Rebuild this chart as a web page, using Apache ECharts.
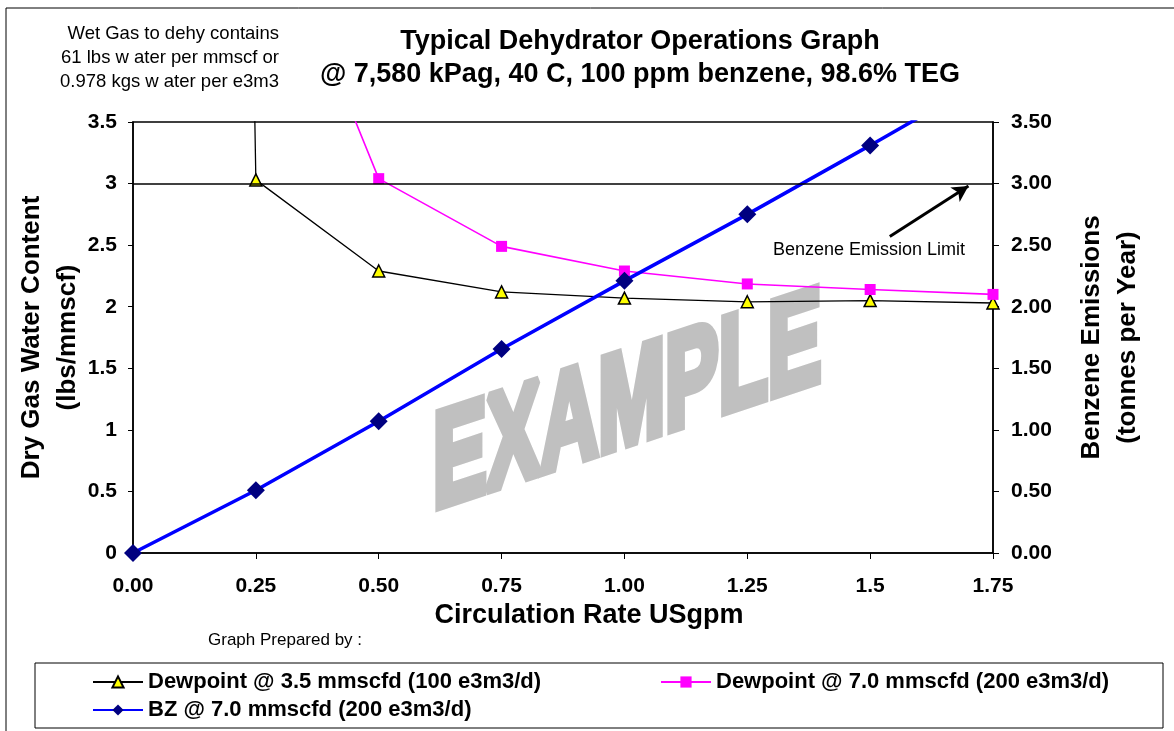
<!DOCTYPE html>
<html lang="en">
<head>
<meta charset="UTF-8">
<title>Typical Dehydrator Operations Graph</title>
<script src="https://cdn.jsdelivr.net/npm/echarts@6/dist/echarts.min.js"></script>
<style>
    * { margin: 0; padding: 0; }
    body { background: #fff; }
    #main { width: 1174px; height: 731px; }
</style>
</head>
<body>
<div id="main"></div>
<script>
    // circulation rate, USgpm
    var rates = [0, 0.25, 0.5, 0.75, 1.0, 1.25, 1.5, 1.75];
    // dry gas water content, lbs/mmscf
    var dew35 = [61, 3.03, 2.29, 2.12, 2.07, 2.04, 2.05, 2.03];
    var dew70 = [null, 5.5, 3.04, 2.49, 2.29, 2.185, 2.14, 2.10];
    // benzene emissions, tonnes per year
    var bz70 = [0, 0.51, 1.07, 1.657, 2.21, 2.75, 3.31, 3.88];
    var benzeneLimit = 3.0;

    var xTickLabels = ['0.00', '0.25', '0.50', '0.75', '1.00', '1.25', '1.5', '1.75'];
    var leftTickLabels = ['0', '0.5', '1', '1.5', '2', '2.5', '3', '3.5'];
    var rightTickLabels = ['0.00', '0.50', '1.00', '1.50', '2.00', '2.50', '3.00', '3.50'];

    var names = [
        'Dewpoint @ 3.5 mmscfd (100 e3m3/d)',
        'Dewpoint @ 7.0 mmscfd (200 e3m3/d)',
        'BZ @ 7.0 mmscfd (200 e3m3/d)'
    ];

    function pairs(ys) {
        var out = [];
        for (var i = 0; i < rates.length; i++) {
            if (ys[i] != null) out.push([rates[i], ys[i]]);
        }
        return out;
    }

    var FONT = '"Liberation Sans", Arial, sans-serif';
    var myChart = echarts.init(document.getElementById('main'));

    var tickLabel = { color: '#000', fontFamily: FONT, fontWeight: 'bold', fontSize: 21 };
    var legendText = { color: '#000', fontFamily: FONT, fontWeight: 'bold', fontSize: 22 };
    var axisName = { color: '#000', fontFamily: FONT, fontWeight: 'bold', fontSize: 26, lineHeight: 36 };

    function legendAt(name, left, top) {
        return {
            data: [name], left: left, top: top, padding: 0,
            itemWidth: 50, itemHeight: 14, itemGap: 5, textStyle: legendText
        };
    }

    var option = {
        animation: false,
        backgroundColor: '#fff',
        grid: {
            left: 133, right: 181, top: 122, bottom: 178,
            outerBoundsMode: 'none',
            show: true, borderColor: '#000', borderWidth: 1.5
        },
        legend: [
            legendAt(names[0], 92, 671),
            legendAt(names[1], 660, 671),
            legendAt(names[2], 92, 699)
        ],
        xAxis: {
            type: 'value', min: 0, max: 1.75, interval: 0.25,
            axisLine: { lineStyle: { color: '#000', width: 1.5 } },
            axisTick: { length: 6, lineStyle: { color: '#000' } },
            splitLine: { show: false },
            axisLabel: Object.assign({ margin: 23, formatter: function (v) { return xTickLabels[Math.round(v / 0.25)]; } }, tickLabel)
        },
        yAxis: [
            {
                type: 'value', min: 0, max: 3.5, interval: 0.5,
                name: 'Dry Gas Water Content\n(lbs/mmscf)',
                nameLocation: 'middle', nameRotate: 90, nameGap: 47, nameMoveOverlap: false,
                nameTextStyle: axisName,
                axisLine: { show: true, lineStyle: { color: '#000', width: 1.5 } },
                axisTick: { show: true, length: 5, lineStyle: { color: '#000' } },
                splitLine: { show: false },
                axisLabel: Object.assign({ margin: 16, formatter: function (v) { return leftTickLabels[Math.round(v / 0.5)]; } }, tickLabel)
            },
            {
                type: 'value', min: 0, max: 3.5, interval: 0.5, position: 'right',
                name: 'Benzene Emissions\n(tonnes per Year)',
                nameLocation: 'middle', nameRotate: 90, nameGap: 81, nameMoveOverlap: false,
                nameTextStyle: axisName,
                axisLine: { show: true, lineStyle: { color: '#000', width: 1.5 } },
                axisTick: { show: true, length: 6, lineStyle: { color: '#000' } },
                splitLine: { show: false },
                axisLabel: Object.assign({ margin: 18, formatter: function (v) { return rightTickLabels[Math.round(v / 0.5)]; } }, tickLabel)
            }
        ],
        graphic: [
            { type: 'rect', shape: { x: 6, y: 8, width: 1300, height: 900 }, style: { fill: null, stroke: '#000', lineWidth: 1 }, z: 0, silent: true },
            { type: 'rect', shape: { x: 35, y: 663, width: 1128, height: 65 }, style: { fill: null, stroke: '#000', lineWidth: 1 }, z: 0, silent: true },
            {
                // watermark, upright letters on a rising baseline
                type: 'text', x: 433, y: 471, scaleX: 0.595, skewY: 0.32, z: 1, silent: true,
                style: {
                    text: 'EXAMPLE', fill: '#c0c0c0', stroke: '#c0c0c0', lineWidth: 10,
                    font: 'bold 135px ' + FONT, align: 'left', verticalAlign: 'middle'
                }
            },
            {
                type: 'text', x: 640, y: 42, silent: true,
                style: { text: 'Typical Dehydrator Operations Graph', fill: '#000', font: 'bold 27px ' + FONT, align: 'center', verticalAlign: 'middle' }
            },
            {
                type: 'text', x: 640, y: 75, silent: true,
                style: { text: '@ 7,580 kPag, 40 C, 100 ppm benzene, 98.6% TEG', fill: '#000', font: 'bold 27px ' + FONT, align: 'center', verticalAlign: 'middle' }
            },
            {
                type: 'text', x: 279, y: 58, silent: true,
                style: {
                    text: 'Wet Gas to dehy contains\n61 lbs w ater per mmscf or\n0.978 kgs w ater per e3m3',
                    fill: '#000', font: '18.5px ' + FONT, lineHeight: 24, align: 'right', verticalAlign: 'middle'
                }
            },
            {
                type: 'text', x: 589, y: 616, silent: true,
                style: { text: 'Circulation Rate USgpm', fill: '#000', font: 'bold 27px ' + FONT, align: 'center', verticalAlign: 'middle' }
            },
            {
                type: 'text', x: 208, y: 640, silent: true,
                style: { text: 'Graph Prepared by :', fill: '#000', font: '17px ' + FONT, align: 'left', verticalAlign: 'middle' }
            },
            {
                type: 'text', x: 773, y: 250, silent: true,
                style: { text: 'Benzene Emission Limit', fill: '#000', font: '18px ' + FONT, align: 'left', verticalAlign: 'middle' }
            }
        ],
        series: [
            {
                name: names[0], type: 'line', yAxisIndex: 0, z: 3,
                data: pairs(dew35),
                symbol: 'triangle', symbolSize: 12,
                lineStyle: { color: '#000', width: 1.3 },
                itemStyle: { color: '#ffff00', borderColor: '#000', borderWidth: 1.5 },
                emphasis: { disabled: true }
            },
            {
                name: names[1], type: 'line', yAxisIndex: 0, z: 3,
                data: pairs(dew70),
                symbol: 'rect', symbolSize: 11,
                lineStyle: { color: '#ff00ff', width: 1.6 },
                itemStyle: { color: '#ff00ff' },
                emphasis: { disabled: true }
            },
            {
                name: names[2], type: 'line', yAxisIndex: 1, z: 4,
                data: pairs(bz70),
                symbol: 'diamond', symbolSize: 18,
                lineStyle: { color: '#0000ff', width: 3.5 },
                itemStyle: { color: '#000080' },
                emphasis: { disabled: true },
                markLine: {
                    silent: true, animation: false,
                    symbol: ['none', 'none'],
                    label: { show: false },
                    data: [
                        { yAxis: benzeneLimit, lineStyle: { color: '#000', width: 1.5, type: 'solid' } },
                        [
                            { coord: [1.54, 2.57], lineStyle: { color: '#000', width: 3, type: 'solid' } },
                            { coord: [1.70, 2.98], symbol: 'arrow', symbolSize: [13, 16] }
                        ]
                    ]
                }
            }
        ]
    };

    myChart.setOption(option);
</script>
</body>
</html>
